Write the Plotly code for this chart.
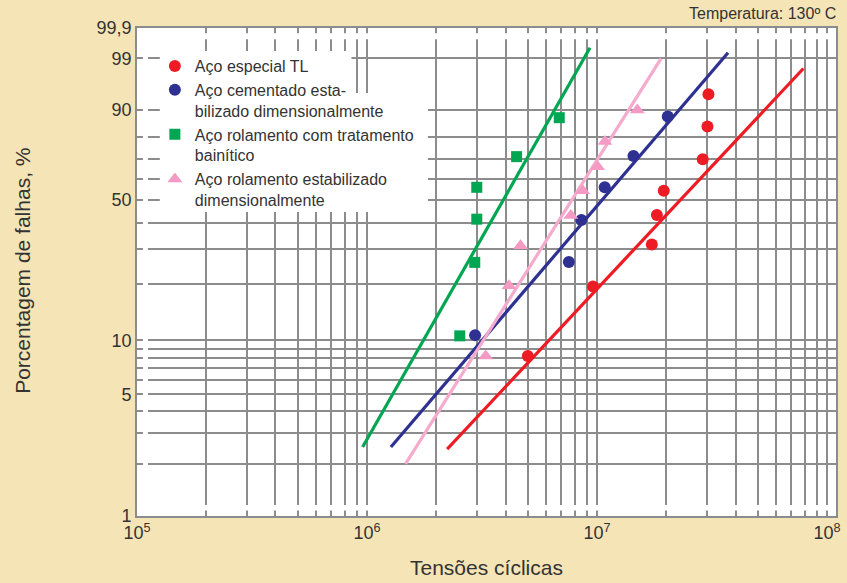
import numpy as np
import plotly.graph_objects as go

# Cycles to failure and cumulative failure percentage (median ranks) per steel
red_N = [5.0e6, 9.6e6, 1.73e7, 1.82e7, 1.95e7, 2.88e7, 3.02e7, 3.05e7]
red_pct = [8.2, 19.5, 31.7, 43.2, 54.3, 69.6, 84.2, 94.2]

blue_N = [2.95e6, 7.54e6, 8.55e6, 1.08e7, 1.44e7, 2.03e7]
blue_pct = [10.7, 26.0, 41.1, 55.9, 71.2, 87.9]

green_N = [2.53e6, 2.94e6, 3.0e6, 3.0e6, 4.47e6, 6.85e6]
green_pct = [10.6, 25.9, 41.4, 55.9, 70.9, 87.5]

pink_N = [3.28e6, 4.14e6, 4.65e6, 7.69e6, 8.67e6, 1.006e7, 1.082e7, 1.497e7]
pink_pct = [8.2, 19.7, 31.2, 43.0, 54.2, 66.0, 77.9, 90.0]

# Weibull fit lines (end points)
red_fit_N, red_fit_pct = [2.23e6, 7.89e7], [2.43, 98.2]
blue_fit_N, blue_fit_pct = [1.27e6, 3.71e7], [2.5, 99.3]
green_fit_N, green_fit_pct = [9.57e5, 9.32e6], [2.5, 99.5]
pink_fit_N, pink_fit_pct = [1.47e6, 1.90e7], [2.0, 99.0]

series_names = [
    "Aço especial TL",
    "Aço cementado esta-<br>bilizado dimensionalmente",
    "Aço rolamento com tratamento<br>bainítico",
    "Aço rolamento estabilizado<br>dimensionalmente",
]

# Probability-paper grid
grid_pct = [1, 2, 3, 4, 5, 6, 7, 8, 9, 10, 20, 30, 40, 50, 60, 70, 80, 90, 99, 99.9]
labelled_pct = {1: "1", 5: "5", 10: "10", 50: "50", 90: "90", 99: "99", 99.9: "99,9"}
grid_N = [m * 10 ** e for e in (5, 6, 7) for m in range(1, 10)] + [1e8]
decade_labels = {5: "10<sup>5</sup>", 6: "10<sup>6</sup>", 7: "10<sup>7</sup>", 8: "10<sup>8</sup>"}


def weibull(p):
    """Weibull probability scale: ln(-ln(1 - F))."""
    p = np.asarray(p, dtype=float) / 100.0
    return np.log(-np.log(1.0 - p))


RED, BLUE, GREEN, PINK = "#ED1C24", "#2E3192", "#00A651", "#F49AC4"
PINK_LINE = "#F5ABCD"
GRID = "#8C8C8C"
TEXT = "#333333"
BG = "#F5E4B6"

fig = go.Figure()

fits = [
    (red_fit_N, red_fit_pct, RED),
    (blue_fit_N, blue_fit_pct, BLUE),
    (green_fit_N, green_fit_pct, GREEN),
    (pink_fit_N, pink_fit_pct, PINK_LINE),
]
for n, pct, col in fits:
    fig.add_trace(go.Scatter(x=n, y=weibull(pct), mode="lines",
                             line=dict(color=col, width=3.2),
                             showlegend=False, hoverinfo="skip"))

points = [
    (red_N, red_pct, RED, "circle", 12, series_names[0]),
    (blue_N, blue_pct, BLUE, "circle", 12, series_names[1]),
    (green_N, green_pct, GREEN, "square", 11, series_names[2]),
    (pink_N, pink_pct, PINK, "triangle-up", 13, series_names[3]),
]
for n, pct, col, sym, size, name in points:
    fig.add_trace(go.Scatter(x=n, y=weibull(pct), mode="markers", name=name,
                             marker=dict(color=col, symbol=sym, size=size,
                                         line=dict(width=0))))

# Plot-area geometry (pixels) used for the paper-referenced decorations
W, H = 847, 583
L, R, T, B = 137, 841, 28, 516
pw, ph = R - L, B - T


def px(x):
    return (x - L) / pw


def py(y):
    return (B - y) / ph


shapes = []
white = dict(type="rect", xref="paper", yref="paper", layer="above",
             fillcolor="white", line=dict(width=0))
# small breaks between the axis ticks and the grid
shapes.append({**white, "x0": px(143), "x1": px(148), "y0": py(514), "y1": py(30)})
shapes.append({**white, "x0": px(139), "x1": px(839), "y0": py(39.3), "y1": py(33.3)})
shapes.append({**white, "x0": px(139), "x1": px(839), "y0": py(510.5), "y1": py(505)})
# white panel behind the legend text
shapes.append({**white, "x0": px(160), "x1": px(353), "y0": py(93), "y1": py(51)})
shapes.append({**white, "x0": px(160), "x1": px(430), "y0": py(212), "y1": py(93)})

fig.update_layout(
    width=W, height=H,
    margin=dict(l=L, r=W - R, t=T, b=H - B, pad=0),
    paper_bgcolor=BG, plot_bgcolor="white",
    font=dict(family="Liberation Sans, Arial, sans-serif", color=TEXT, size=16),
    shapes=shapes,
    legend=dict(x=px(155), y=py(49), xanchor="left", yanchor="top",
                bgcolor="rgba(0,0,0,0)", borderwidth=0, valign="top",
                font=dict(size=16, color=TEXT), tracegroupgap=0,
                itemwidth=30),
    xaxis=dict(type="log", range=[5, 5 + pw / 231.67],
               tickvals=grid_N,
               ticktext=[decade_labels.get(int(round(np.log10(v))), "")
                         if abs(np.log10(v) - round(np.log10(v))) < 1e-9 else ""
                         for v in grid_N],
               showgrid=True, gridcolor=GRID, gridwidth=1.6,
               showline=True, linecolor=GRID, linewidth=1.6, mirror=True,
               ticks="", tickfont=dict(size=18, color=TEXT),
               zeroline=False),
    yaxis=dict(range=[float(weibull(1)), float(weibull(99.9))],
               tickvals=[float(v) for v in weibull(grid_pct)],
               ticktext=[labelled_pct.get(p, "") for p in grid_pct],
               showgrid=True, gridcolor=GRID, gridwidth=1.6,
               showline=True, linecolor=GRID, linewidth=1.6, mirror=True,
               ticks="", tickfont=dict(size=18, color=TEXT),
               zeroline=False),
    annotations=[
        dict(text="Temperatura: 130º C", xref="paper", yref="paper",
             x=px(843), y=py(14), xanchor="right", yanchor="middle",
             showarrow=False, font=dict(size=16, color=TEXT)),
        dict(text="Tensões cíclicas", xref="paper", yref="paper",
             x=0.5, y=py(567), xanchor="center", yanchor="middle",
             showarrow=False, font=dict(size=21, color=TEXT)),
        dict(text="Porcentagem de falhas, %", xref="paper", yref="paper",
             x=px(21), y=py(271), xanchor="center", yanchor="middle",
             textangle=-90, showarrow=False, font=dict(size=21, color=TEXT)),
    ],
)

fig.write_html("out.html")
